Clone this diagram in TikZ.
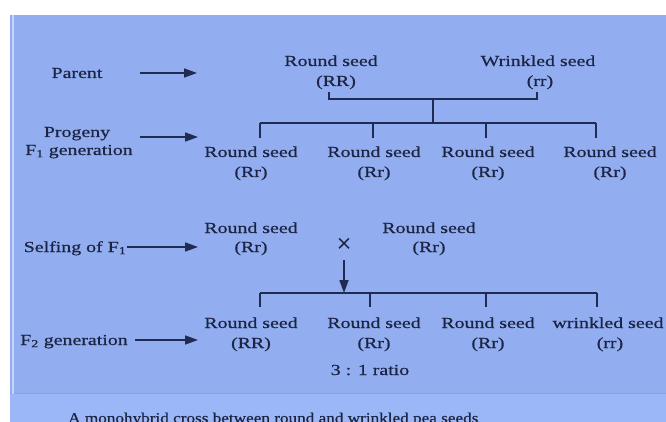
\documentclass[tikz,border=0pt]{standalone}
\usepackage{fontspec}
\setmainfont[FakeStretch=1.3,FakeBold=0.6]{Liberation Serif}
\newfontfamily\capfont[FakeBold=0.5]{Liberation Serif}
\newfontfamily\crossfont[FakeBold=0.3]{Liberation Serif}
\usetikzlibrary{arrows.meta}
\definecolor{panel}{HTML}{93AEF0}
\definecolor{band}{HTML}{9CB7F7}
\definecolor{edge}{HTML}{8AA2DE}
\definecolor{txt}{HTML}{1B2442}
\definecolor{ln}{HTML}{1F2B52}
\newcommand\mainsz{\fontsize{15.3}{18}\selectfont}
\tikzset{
  lbl/.style={anchor=base, inner sep=0pt, text=txt, font=\mainsz},
  conn/.style={draw=ln, line width=1.5pt},
  pointer/.style={draw=ln, line width=1.7pt, -{Triangle[length=13pt,width=9pt]}},
}
\begin{document}
\begin{tikzpicture}[x=1pt,y=-1pt]
\useasboundingbox (0,0) rectangle (666,422);
\fill[white] (0,0) rectangle (666,422);
\fill[panel] (10,15) rectangle (666,394);
\fill[band] (10,394) rectangle (666,422);
\draw[edge, line width=1.5pt] (10,393.5) -- (666,393.5);
\draw[band!60!white, line width=1.2pt] (13,15) -- (13,394);

% left labels
\node[lbl] (parent) at (77,78) {Parent};
\node[lbl] (progeny) at (77,137) {Progeny};
\node[lbl] (f1gen) at (79,155) {F\textsubscript{1} generation};
\node[lbl] (selfing) at (75,252) {Selfing of F\textsubscript{1}};
\node[lbl] (f2gen) at (74,345) {F\textsubscript{2} generation};

\coordinate (pa1) at (140,73);  \coordinate (pa2) at (197,73);
\coordinate (pr1) at (140,137); \coordinate (pr2) at (198,137);
\coordinate (se1) at (127,247); \coordinate (se2) at (198,247);
\coordinate (f21) at (135,340); \coordinate (f22) at (198,340);
\draw[pointer] (pa1) -- (pa2);
\draw[pointer] (pr1) -- (pr2);
\draw[pointer] (se1) -- (se2);
\draw[pointer] (f21) -- (f22);

% parents
\node[lbl] (p1a) at (331,66) {Round seed};
\node[lbl] (p1b) at (336,86) {(RR)};
\node[lbl] (p2a) at (538,66) {Wrinkled seed};
\node[lbl] (p2b) at (540,86) {(rr)};

\coordinate (pl) at (329,92); \coordinate (pr) at (537,92);
\coordinate (pm) at (433,99);
\draw[conn] (pl) |- (pm) -| (pr);
\coordinate (f1top) at (433,123);
\draw[conn] (pm) -- (f1top);

% F1 bracket
\coordinate (c1) at (260,123); \coordinate (c2) at (373,123);
\coordinate (c3) at (486,123); \coordinate (c4) at (596,123);
\draw[conn] (c1) -- (c4);
\foreach \c in {c1,c2,c3,c4} \draw[conn] (\c) -- ++(0,15);

% F1 row
\node[lbl] (a1) at (251,157) {Round seed};
\node[lbl] (a1g) at (251,177) {(Rr)};
\node[lbl] (a2) at (374,157) {Round seed};
\node[lbl] (a2g) at (374,177) {(Rr)};
\node[lbl] (a3) at (488,157) {Round seed};
\node[lbl] (a3g) at (488,177) {(Rr)};
\node[lbl] (a4) at (610,157) {Round seed};
\node[lbl] (a4g) at (610,177) {(Rr)};

% selfing row
\node[lbl] (s1) at (251,233) {Round seed};
\node[lbl] (s1g) at (251,252) {(Rr)};
\node[lbl] (s2) at (429,233) {Round seed};
\node[lbl] (s2g) at (429,252) {(Rr)};
\node[anchor=center, inner sep=0pt, text=txt, font=\crossfont\fontsize{26}{28}\selectfont] (cross) at (344,245) {×};

% F2 bracket
\coordinate (d1) at (260,293); \coordinate (d2) at (370,293);
\coordinate (d3) at (486,293); \coordinate (d4) at (597,293);
\coordinate (dtop) at (344,260); \coordinate (dtip) at (344,293);
\draw[pointer] (dtop) -- (dtip);
\draw[conn] (d1) -- (d4);
\foreach \c in {d1,d2,d3,d4} \draw[conn] (\c) -- ++(0,14);

% F2 row
\node[lbl] (b1) at (251,328) {Round seed};
\node[lbl] (b1g) at (251,348) {(RR)};
\node[lbl] (b2) at (374,328) {Round seed};
\node[lbl] (b2g) at (374,348) {(Rr)};
\node[lbl] (b3) at (488,328) {Round seed};
\node[lbl] (b3g) at (488,348) {(Rr)};
\node[lbl] (b4) at (608,328) {wrinkled seed};
\node[lbl] (b4g) at (610,348) {(rr)};

\node[lbl] (ratio) at (370,375) {3 : 1 ratio};

\node[anchor=base west, inner sep=0pt, text=txt] (caption) at (68,423)
  {\capfont\fontsize{15}{18}\selectfont\scalebox{1.145}[1]{A monohybrid cross between round and wrinkled pea seeds}};
\end{tikzpicture}
\end{document}
